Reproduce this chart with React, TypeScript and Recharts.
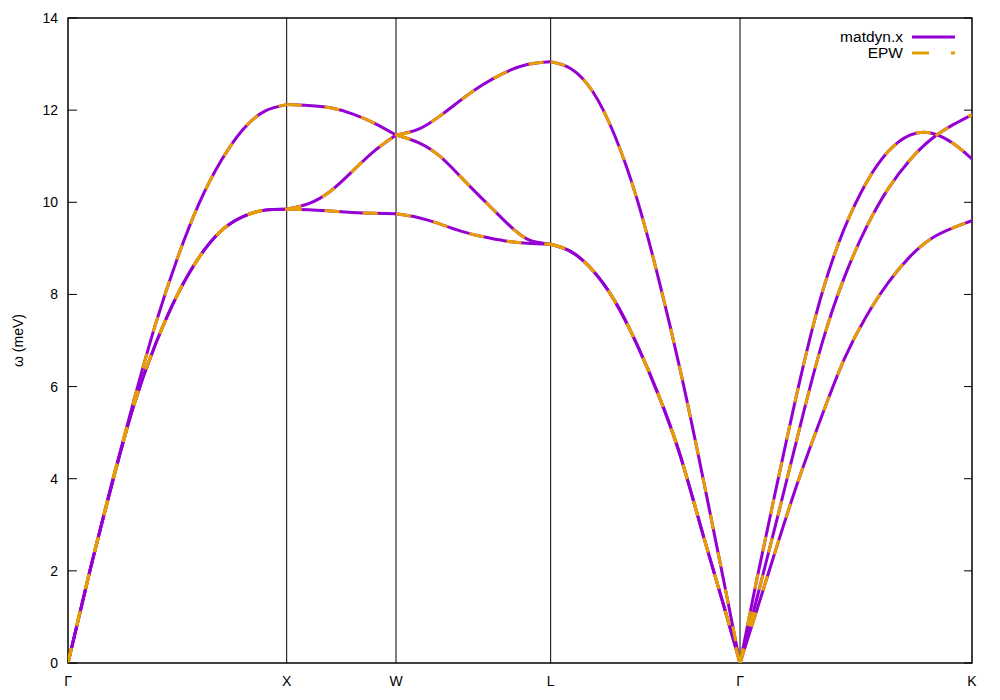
import React from 'react';
import { LineChart, Line, XAxis, YAxis, ReferenceLine, ReferenceArea } from 'recharts';

// Path coordinate along Γ-X-W-L-Γ-K
const qPoints = [
  0, 0.1, 0.2, 0.3, 0.4, 0.5, 0.6, 0.7, 0.8, 0.9, 1.0,
  1.1, 1.2, 1.3, 1.4, 1.5,
  1.6, 1.7, 1.8, 1.9, 2.0, 2.1, 2.2071,
  2.3, 2.4, 2.5, 2.6, 2.7, 2.8, 2.9, 3.0, 3.0731,
  3.15, 3.25, 3.35, 3.45, 3.55, 3.65, 3.75, 3.85, 3.95, 4.05, 4.1338,
];

const bandLow = [
  0, 2.0, 3.86, 5.58, 6.92, 7.99, 8.81, 9.38, 9.69, 9.83, 9.85,
  9.84, 9.81, 9.78, 9.76, 9.75,
  9.67, 9.53, 9.37, 9.25, 9.16, 9.11, 9.09,
  8.93, 8.52, 7.86, 6.93, 5.82, 4.5, 2.85, 1.22, 0,
  1.15, 2.66, 4.1, 5.4, 6.6, 7.52, 8.25, 8.82, 9.22, 9.45, 9.6,
];

const bandMid = [
  0, 2.0, 3.86, 5.58, 6.92, 7.99, 8.81, 9.38, 9.69, 9.83, 9.85,
  9.97, 10.24, 10.67, 11.11, 11.46,
  11.3, 11.0, 10.53, 10.05, 9.58, 9.2, 9.09,
  8.93, 8.52, 7.86, 6.93, 5.82, 4.5, 2.85, 1.22, 0,
  1.4, 3.27, 5.18, 6.97, 8.37, 9.45, 10.29, 10.92, 11.38, 11.69, 11.9,
];

const bandTop = [
  0, 2.0, 3.9, 5.68, 7.35, 8.78, 9.98, 10.9, 11.58, 11.98, 12.12,
  12.1, 12.05, 11.92, 11.72, 11.46,
  11.58, 11.87, 12.23, 12.56, 12.82, 12.99, 13.05,
  12.9, 12.4, 11.45, 10.1, 8.35, 6.35, 4.1, 1.75, 0,
  1.82, 4.05, 6.2, 8.06, 9.43, 10.42, 11.1, 11.46, 11.5, 11.27, 10.94,
];

// high-symmetry points
const symQ = [0, 1.0, 1.5, 2.2071, 3.0731, 4.1338];
const symLabels = ['Γ', 'X', 'W', 'L', 'Γ', 'K'];
const symIndex = [0, 10, 15, 22, 31, 42];

const yTicks = [0, 2, 4, 6, 8, 10, 12, 14];
const bandKeys = ['low', 'mid', 'top'];

const seriesNames = ['matdyn.x', 'EPW'];
const seriesColors = ['#9400D3', '#E69F00'];
const epwDash = '15 23';

const data = qPoints.map((q, i) => ({ q, low: bandLow[i], mid: bandMid[i], top: bandTop[i] }));
const segments = symIndex.slice(0, -1).map((s, i) => data.slice(s, symIndex[i + 1] + 1));

const W = 984;
const H = 684;
const MARGIN = { top: 10, right: 20, left: 0, bottom: 0 };
const YW = 60;
const XH = 29;
const PLOT_RIGHT = W - MARGIN.right;
const FONT = '"Liberation Sans", Arial, sans-serif';

const LeftTick = (props: any) => {
  const { x, y, payload } = props;
  return (
    <g>
      <line x1={x + 10} x2={x + 19} y1={y} y2={y} stroke="#000" strokeWidth={1} />
      <line x1={PLOT_RIGHT - 8} x2={PLOT_RIGHT} y1={y} y2={y} stroke="#000" strokeWidth={1} />
      <text x={x} y={y} textAnchor="end" dominantBaseline="central" fontSize={14} fontFamily={FONT} fill="#000">
        {payload.value}
      </text>
    </g>
  );
};

const BottomTick = (props: any) => {
  const { x, y, payload } = props;
  const idx = symQ.indexOf(payload.value);
  return (
    <text x={x} y={y} dy="0.71em" textAnchor="middle" fontSize={14} fontFamily={FONT} fill="#000">
      {idx >= 0 ? symLabels[idx] : ''}
    </text>
  );
};

const YLabel = (props: any) => {
  const vb = props.viewBox || { x: 0, y: MARGIN.top, width: YW, height: H - MARGIN.top - XH };
  const cx = vb.x + 10;
  const cy = vb.y + vb.height / 2;
  return (
    <text x={cx} y={cy} transform={`rotate(-90 ${cx} ${cy})`} textAnchor="middle" dominantBaseline="central"
      fontSize={14} fontFamily={FONT} fill="#000">
      ω (meV)
    </text>
  );
};

export default function App() {
  return (
    <div style={{ position: 'relative', width: W, height: H, fontFamily: FONT }}>
      <LineChart width={W} height={H} margin={MARGIN}>
        <XAxis
          dataKey="q"
          type="number"
          domain={[symQ[0], symQ[symQ.length - 1]]}
          ticks={symQ}
          interval={0}
          tickSize={0}
          tickMargin={13}
          tick={<BottomTick />}
          axisLine={false}
          tickLine={false}
          height={XH}
          allowDataOverflow
        />
        <YAxis
          type="number"
          domain={[0, 14]}
          ticks={yTicks}
          interval={0}
          tickSize={0}
          tickMargin={10}
          tick={<LeftTick />}
          axisLine={false}
          tickLine={false}
          width={YW}
          allowDataOverflow
          label={<YLabel />}
        />
        {symQ.slice(1, -1).map((q, i) => (
          <ReferenceLine key={'v' + i} x={q} stroke="#000" strokeWidth={1} />
        ))}
        <ReferenceArea x1={symQ[0]} x2={symQ[symQ.length - 1]} y1={0} y2={14} fill="none" stroke="#000" strokeWidth={1.5} />
        {segments.map((seg, si) =>
          bandKeys.map((k) => (
            <Line
              key={'m' + si + k}
              data={seg}
              dataKey={k}
              type="natural"
              stroke={seriesColors[0]}
              strokeWidth={3}
              dot={false}
              activeDot={false}
              isAnimationActive={false}
            />
          ))
        )}
        {segments.map((seg, si) =>
          bandKeys.map((k) => (
            <Line
              key={'e' + si + k}
              data={seg}
              dataKey={k}
              type="natural"
              stroke={seriesColors[1]}
              strokeWidth={3}
              strokeDasharray={epwDash}
              dot={false}
              activeDot={false}
              isAnimationActive={false}
            />
          ))
        )}
      </LineChart>
      <div style={{ position: 'absolute', left: 747, top: 21, width: 200 }}>
        {seriesNames.map((name, i) => (
          <div key={name} style={{ display: 'flex', justifyContent: 'flex-end', alignItems: 'center', height: 16 }}>
            <span style={{ fontSize: 15.5, lineHeight: '16px', color: '#000', marginRight: 9 }}>{name}</span>
            <svg width={43} height={16}>
              <line x1={0} x2={43} y1={8} y2={8} stroke={seriesColors[i]} strokeWidth={3}
                strokeDasharray={i === 1 ? '17 22' : undefined} />
            </svg>
          </div>
        ))}
      </div>
    </div>
  );
}
